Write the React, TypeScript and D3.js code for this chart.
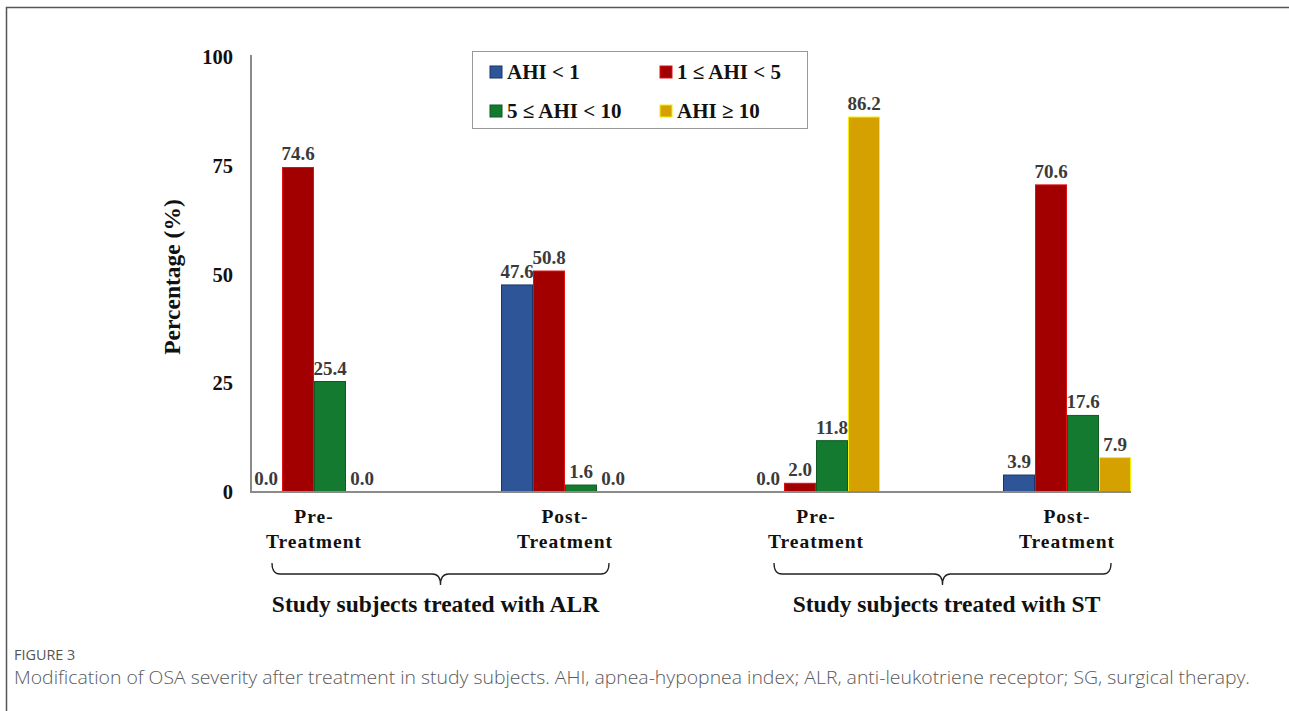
import React from 'react';
import * as d3 from 'd3';

// AHI severity share (%) per group
const groups = ['preALR', 'postALR', 'preST', 'postST'];
const groupLabels = [['Pre-', 'Treatment'], ['Post-', 'Treatment'], ['Pre-', 'Treatment'], ['Post-', 'Treatment']];
const seriesNames = ['AHI < 1', '1 \u2264 AHI < 5', '5 \u2264 AHI < 10', 'AHI \u2265 10'];
const ahiLt1 = [0.0, 47.6, 0.0, 3.9];
const ahi1to5 = [74.6, 50.8, 2.0, 70.6];
const ahi5to10 = [25.4, 1.6, 11.8, 17.6];
const ahiGe10 = [0.0, 0.0, 86.2, 7.9];
const yTicks = [0, 25, 50, 75, 100];
const studyLabels = ['Study subjects treated with ALR', 'Study subjects treated with ST'];
const studySpans = [[0, 1], [2, 3]];

const fills = ['#2E5597', '#A20000', '#137A2F', '#D4A100'];
const strokes = ['#1C3566', '#E01010', '#0E5A22', '#F5F000'];

const serif = '"Liberation Serif", "Times New Roman", serif';
const sans = '"Open Sans", "Noto Sans", sans-serif';

export default function App() {
  const W = 1289, H = 711;
  const allSeries = [ahiLt1, ahi1to5, ahi5to10, ahiGe10];

  const x = d3.scaleBand().domain(groups).range([188.5, 1192.5]).padding(0);
  const xin = d3.scaleBand().domain(seriesNames).range([-64, 64]).padding(0);
  const y = d3.scaleLinear().domain([0, 100]).range([492, 57]);
  const cx = (g: string) => (x(g) as number) + x.bandwidth() / 2;

  const axisLeft = 251;
  const axisRight = cx(groups[3]) + 64;

  const bracket = (x0: number, x1: number) => {
    const top = 563, mid = 574, tip = 585, r = 8;
    const m = (x0 + x1) / 2;
    return `M${x0},${top} Q${x0},${mid} ${x0 + r},${mid} L${m - r},${mid} Q${m},${mid} ${m},${tip} Q${m},${mid} ${m + r},${mid} L${x1 - r},${mid} Q${x1},${mid} ${x1},${top}`;
  };

  const legendItems = [
    { sx: 490, sy: 66, tx: 507, ty: 79 },
    { sx: 660, sy: 66, tx: 677, ty: 79 },
    { sx: 490, sy: 105, tx: 507, ty: 118 },
    { sx: 660, sy: 105, tx: 677, ty: 118 },
  ];

  return (
    <div style={{ position: 'fixed', left: 0, top: 0, width: W, height: H, background: '#fff' }}>
      <svg width={W} height={H} style={{ display: 'block' }}>
        <rect x={6.5} y={7.5} width={W + 20} height={H + 20} fill="none" stroke="#555" strokeWidth={1.5} />

        {/* y axis */}
        {yTicks.map(t => (
          <text key={t} x={233} y={y(t)} dy="0.35em" textAnchor="end" fontFamily={serif} fontWeight="bold" fontSize={20.5} fill="#111">{t}</text>
        ))}
        <text transform={`translate(180,277) rotate(-90)`} textAnchor="middle" fontFamily={serif} fontWeight="bold" fontSize={23.5} fill="#111">Percentage (%)</text>

        {/* bars */}
        {groups.map((g, gi) => (
          <g key={g}>
            {allSeries.map((vals, si) => {
              const bx = cx(g) + (xin(seriesNames[si]) as number);
              const v = vals[gi];
              return (
                <g key={si}>
                  {v > 0 && (
                    <rect x={bx + 0.5} y={y(v)} width={xin.bandwidth() - 1} height={y(0) - y(v)} fill={fills[si]} stroke={strokes[si]} strokeWidth={1} />
                  )}
                  <text x={bx + xin.bandwidth() / 2} y={y(v) - 7} textAnchor="middle" fontFamily={serif} fontWeight="bold" fontSize={19} fill="#3a3a3a">{v.toFixed(1)}</text>
                </g>
              );
            })}
          </g>
        ))}

        <path d={`M${axisLeft},55 L${axisLeft},${y(0)} L${axisRight},${y(0)}`} fill="none" stroke="#8a8a8a" strokeWidth={2} />

        {/* category labels */}
        {groups.map((g, gi) => (
          <text key={g} textAnchor="middle" fontFamily={serif} fontWeight="bold" fontSize={19.5} fill="#111" letterSpacing={1}>
            <tspan x={cx(g)} y={523}>{groupLabels[gi][0]}</tspan>
            <tspan x={cx(g)} y={548}>{groupLabels[gi][1]}</tspan>
          </text>
        ))}

        {/* brackets */}
        {studySpans.map(([a, b], i) => {
          const x0 = cx(groups[a]) - 42, x1 = cx(groups[b]) + 44;
          const shift = i === 0 ? -5 : 4;
          return (
            <g key={i}>
              <path d={bracket(x0, x1)} fill="none" stroke="#222" strokeWidth={1.3} />
              <text x={(x0 + x1) / 2 + shift} y={612} textAnchor="middle" fontFamily={serif} fontWeight="bold" fontSize={23.5} fill="#111">{studyLabels[i]}</text>
            </g>
          );
        })}

        {/* legend */}
        <rect x={472.5} y={51.5} width={335} height={77} fill="#fff" stroke="#999" strokeWidth={1} />
        {seriesNames.map((s, i) => {
          const it = legendItems[i];
          return (
            <g key={s}>
              <rect x={it.sx} y={it.sy} width={12} height={12} fill={fills[i]} stroke={strokes[i]} strokeWidth={1} />
              <text x={it.tx} y={it.ty} fontFamily={serif} fontWeight="bold" fontSize={21} fill="#111">{s}</text>
            </g>
          );
        })}

        {/* caption */}
        <text x={14} y={660} fontFamily={sans} fontSize={14.4} fill="#555">FIGURE 3</text>
        <text x={14} y={684} fontFamily={sans} fontWeight={300} fontSize={18.5} fill="#5a5a5a" textLength={1236} lengthAdjust="spacingAndGlyphs">Modification of OSA severity after treatment in study subjects. AHI, apnea-hypopnea index; ALR, anti-leukotriene receptor; SG, surgical therapy.</text>
      </svg>
    </div>
  );
}
